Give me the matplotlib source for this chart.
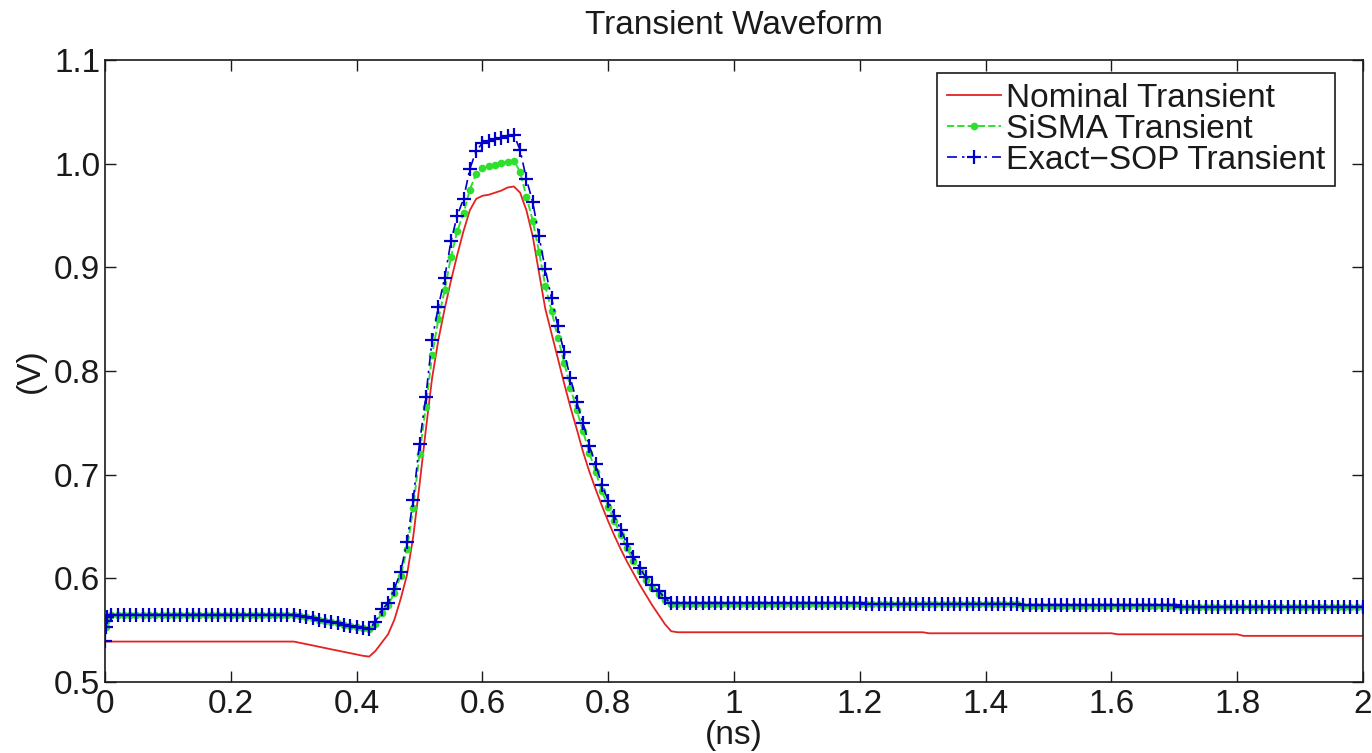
import numpy as np
import matplotlib
matplotlib.use('Agg')
import matplotlib.pyplot as plt

plt.rcParams['font.family'] = ['Liberation Sans', 'DejaVu Sans']

# ---------------- data ----------------
# simulation grid, ns
time_ns = np.round(np.arange(0, 201) * 0.01, 2)

nominal_v = (
    [0.539] * 31 +
    [0.5378, 0.5365, 0.5353, 0.5340, 0.5328, 0.5315, 0.5303, 0.5290, 0.5278, 0.5265, 0.5253, 0.5245] +
    [0.530, 0.538, 0.546, 0.560, 0.580, 0.603, 0.640, 0.690, 0.743, 0.793,
     0.830, 0.860, 0.887, 0.912, 0.935, 0.955, 0.966, 0.969, 0.970, 0.972,
     0.974, 0.977, 0.978, 0.972, 0.955, 0.930, 0.895, 0.860, 0.836, 0.812,
     0.788, 0.765, 0.744, 0.722, 0.703, 0.686, 0.670, 0.655, 0.641, 0.628,
     0.616, 0.605, 0.594, 0.584, 0.574, 0.565, 0.556, 0.549] +
    [0.548] * 40 + [0.547] * 30 + [0.546] * 20 + [0.5445] * 20
)

sisma_v = (
    [0.563] + [0.565] * 30 +
    [0.5638, 0.5626, 0.5614, 0.5602, 0.5590, 0.5578, 0.5566, 0.5554, 0.5542, 0.5530, 0.5518, 0.5510] +
    [0.556, 0.567, 0.574, 0.586, 0.602, 0.628, 0.668, 0.720, 0.765, 0.815,
     0.850, 0.878, 0.910, 0.935, 0.952, 0.975, 0.990, 0.996, 0.998, 0.999,
     1.001, 1.002, 1.003, 0.992, 0.968, 0.945, 0.915, 0.882, 0.858, 0.832,
     0.808, 0.784, 0.762, 0.742, 0.721, 0.703, 0.684, 0.669, 0.655, 0.642,
     0.629, 0.617, 0.607, 0.598, 0.591, 0.585, 0.579, 0.575] +
    [0.5755] * 30 + [0.5748] * 25 + [0.5737] * 25 + [0.5722] * 30
)

exact_sop_v = (
    [0.540] + [0.565] * 30 +
    [0.5638, 0.5626, 0.5614, 0.5602, 0.5590, 0.5578, 0.5566, 0.5554, 0.5542, 0.5530, 0.5518, 0.5510] +
    [0.558, 0.570, 0.576, 0.590, 0.606, 0.635, 0.676, 0.730, 0.775, 0.830,
     0.862, 0.890, 0.925, 0.950, 0.966, 0.995, 1.012, 1.020, 1.022, 1.024,
     1.025, 1.027, 1.028, 1.013, 0.985, 0.963, 0.930, 0.898, 0.870, 0.843,
     0.818, 0.793, 0.770, 0.750, 0.728, 0.710, 0.690, 0.675, 0.660, 0.647,
     0.633, 0.621, 0.610, 0.601, 0.594, 0.588, 0.581, 0.576] +
    [0.5760] * 30 + [0.5752] * 25 + [0.5740] * 25 + [0.5725] * 30
)

# start-up samples of the exact-SOP run (stacked at t ~ 0)
startup_t = [0.001, 0.002, 0.003]
startup_v = [0.553, 0.559, 0.563]

series_names = ['Nominal Transient', 'SiSMA Transient', 'Exact\u2212SOP Transient']
x_ticks = [0, 0.2, 0.4, 0.6, 0.8, 1.0, 1.2, 1.4, 1.6, 1.8, 2.0]
x_tick_labels = ['0', '0.2', '0.4', '0.6', '0.8', '1', '1.2', '1.4', '1.6', '1.8', '2']
y_ticks = [0.5, 0.6, 0.7, 0.8, 0.9, 1.0, 1.1]
y_tick_labels = ['0.5', '0.6', '0.7', '0.8', '0.9', '1.0', '1.1']

# ---------------- figure ----------------
W, H = 1372, 753
fig = plt.figure(figsize=(W / 100, H / 100), dpi=100)
ax = fig.add_axes([105 / W, 1 - 682 / H, 1258 / W, 622 / H])

sop_t = np.concatenate([[time_ns[0]], startup_t, time_ns[1:]])
sop_v = np.concatenate([[exact_sop_v[0]], startup_v, exact_sop_v[1:]])
sis_t = np.concatenate([[time_ns[0]], startup_t, time_ns[1:]])
sis_v = np.concatenate([[sisma_v[0]], startup_v, sisma_v[1:]])

ax.plot(time_ns, nominal_v, color='#e32222', lw=1.3, label=series_names[0], zorder=2)
ax.plot(sis_t, sis_v, color='#2ee02e', lw=1.4, ls='--', marker='.', ms=9,
        label=series_names[1], zorder=3)
ax.plot(sop_t, sop_v, color='#0000c8', lw=1.2, ls=(0, (6, 3, 1.5, 3)), marker='+',
        ms=10, mew=1.6, label=series_names[2], zorder=4)

ax.set_xlim(0, 2)
ax.set_ylim(0.5, 1.1)
ax.set_xticks(x_ticks)
ax.set_xticklabels(x_tick_labels)
ax.set_yticks(y_ticks)
ax.set_yticklabels(y_tick_labels)

ax.tick_params(direction='in', length=8, width=1.0, top=True, right=True,
               labelsize=24, colors='#1a1a1a')
ax.tick_params(axis='x', pad=5)
ax.tick_params(axis='y', pad=3.5)
for s in ax.spines.values():
    s.set_linewidth(1.2)
    s.set_color('#1a1a1a')

ax.set_xlabel('(ns)', fontsize=24, labelpad=0, color='#1a1a1a')
ax.set_ylabel('(V)', fontsize=24, labelpad=6, color='#1a1a1a')
ax.set_title('Transient Waveform', fontsize=24, pad=19, color='#1a1a1a')

leg = ax.legend(loc='upper right', bbox_to_anchor=((1335 - 105) / 1258, 1 - 13 / 622),
                borderaxespad=0, fontsize=24, frameon=True, fancybox=False,
                edgecolor='#1a1a1a', framealpha=1, handlelength=1.6, handletextpad=0.15,
                labelspacing=0.0, borderpad=0.3)
leg.get_frame().set_linewidth(1.2)
for t in leg.get_texts():
    t.set_color('#1a1a1a')

fig.savefig('out.png', dpi=100, facecolor='white')
